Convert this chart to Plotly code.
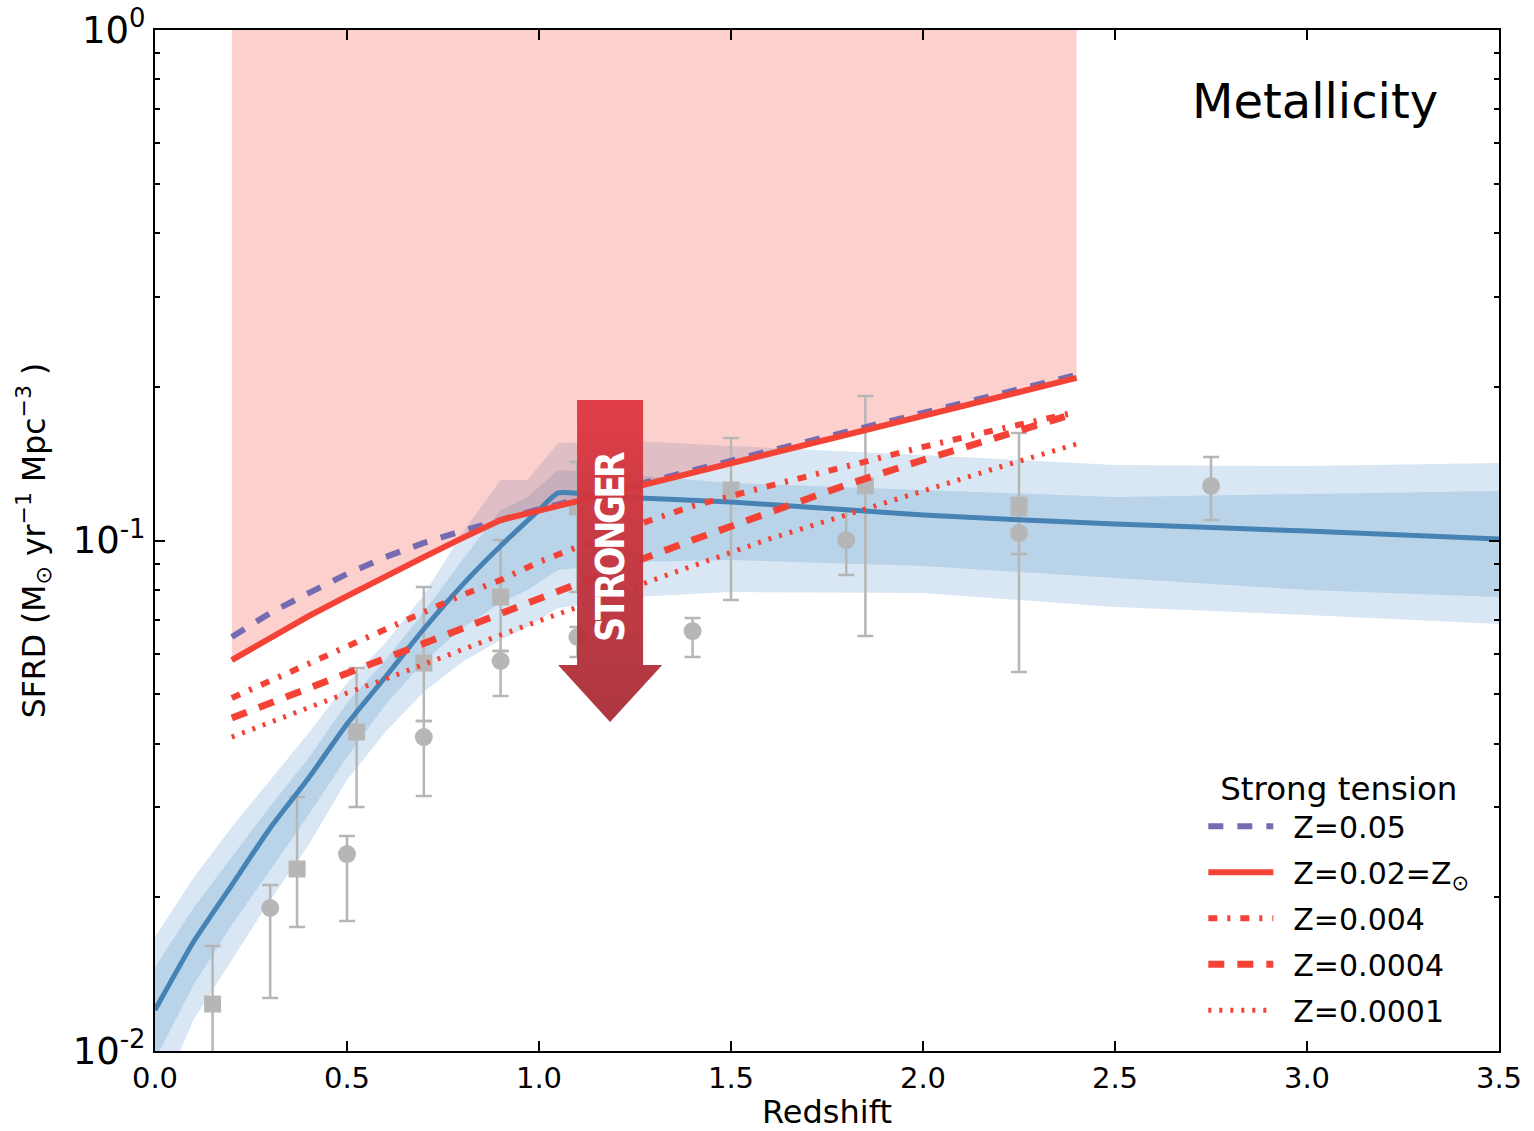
import base64
import plotly.graph_objects as go

# ---- model curves (redshift grid shared by the metallicity tracks) ----
z_model = [0.2, 0.3, 0.4, 0.5, 0.6, 0.7, 0.8, 0.9, 1.0, 1.2, 1.4, 1.6, 1.8, 2.0, 2.2, 2.4]
sfrd_z005 = [0.0647, 0.0721, 0.0789, 0.0860, 0.0928, 0.0989, 0.1044, 0.1097, 0.1152,
             0.1256, 0.1374, 0.1497, 0.1632, 0.1777, 0.1936, 0.2110]
sfrd_z002 = [0.0583, 0.0644, 0.0711, 0.0778, 0.0852, 0.0928, 0.1011, 0.1097, 0.1144,
             0.1247, 0.1358, 0.1479, 0.1611, 0.1755, 0.1912, 0.2083]
sfrd_z0004 = [0.04914, 0.05305, 0.05754, 0.06215, 0.06708, 0.07245, 0.07820, 0.08367, 0.09076,
              0.1039, 0.1168, 0.1279, 0.1399, 0.1525, 0.1654, 0.1785]
sfrd_z00004 = [0.04491, 0.04805, 0.05140, 0.05476, 0.05859, 0.06271, 0.06741, 0.07211, 0.07716,
               0.08794, 0.1002, 0.1137, 0.1285, 0.1438, 0.1602, 0.1777]
sfrd_z00001 = [0.04121, 0.04410, 0.04697, 0.05027, 0.05354, 0.05728, 0.06102, 0.06530, 0.06957,
               0.07890, 0.08915, 0.1007, 0.1122, 0.1256, 0.1393, 0.1545]

# ---- fitted cosmic SFRD with 1σ / 2σ bands ----
z_fit = [0.0, 0.1, 0.2, 0.3, 0.4, 0.5, 0.6, 0.7, 0.8, 0.9, 1.0, 1.05, 1.2, 1.5, 2.0, 2.5, 3.0, 3.5]
sfrd_fit = [0.01203, 0.01635, 0.02114, 0.02734, 0.03425, 0.04370, 0.05402, 0.06708, 0.08178,
            0.09754, 0.1147, 0.1239, 0.1217, 0.1190, 0.1122, 0.1077, 0.1044, 0.1007]

z_band = [0.0, 0.1, 0.2, 0.3, 0.4, 0.5, 0.6, 0.7, 0.8, 0.9, 0.97, 1.05, 1.25, 1.5, 2.0, 2.5, 3.0, 3.5]
band2_hi = [0.01672, 0.02182, 0.02747, 0.03395, 0.04196, 0.05257, 0.06298, 0.07819, 0.1034,
            0.1314, 0.1314, 0.1552, 0.1566, 0.1532, 0.1471, 0.1405, 0.1399, 0.1418]
band1_hi = [0.01460, 0.01906, 0.02399, 0.03019, 0.03749, 0.04805, 0.05833, 0.07245, 0.09158,
            0.1147, 0.1217, 0.1374, 0.1344, 0.1296, 0.1256, 0.1217, 0.1234, 0.1250]
band1_lo = [0.00960, 0.01347, 0.01765, 0.02262, 0.02899, 0.03766, 0.04761, 0.05781, 0.06740,
            0.07541, 0.07998, 0.08756, 0.09076, 0.09158, 0.08913, 0.08444, 0.07998, 0.07750]
band2_lo = [0.00766, 0.01150, 0.01508, 0.01976, 0.02532, 0.03395, 0.04215, 0.05049, 0.05781,
            0.06384, 0.06769, 0.07377, 0.07750, 0.07927, 0.07891, 0.07410, 0.07145, 0.06862]

# ---- observational SFRD compilations ----
sq_z = [0.15, 0.37, 0.525, 0.70, 0.90, 1.10, 1.50, 1.85, 2.25]
sq_sfrd = [0.01236, 0.02273, 0.04215, 0.05754, 0.07750, 0.1163, 0.1256, 0.1279, 0.1173]
sq_hi = [0.01606, 0.03145, 0.05627, 0.08105, 0.1002, 0.1425, 0.1588, 0.1919, 0.1624]
sq_lo = [0.0080, 0.01749, 0.03006, 0.04430, 0.06075, 0.07925, 0.07647, 0.06500, 0.05527]

ci_z = [0.30, 0.50, 0.70, 0.90, 1.10, 1.40, 1.80, 2.25, 2.75]
ci_sfrd = [0.01906, 0.02431, 0.04120, 0.05807, 0.06471, 0.06648, 0.1002, 0.1034, 0.1279]
ci_hi = [0.02114, 0.02637, 0.04430, 0.06075, 0.06770, 0.07048, 0.1147, 0.1122, 0.1457]
ci_lo = [0.01270, 0.01798, 0.03159, 0.04959, 0.05913, 0.05913, 0.08559, 0.09410, 0.1097]

x_ticks = [0.0, 0.5, 1.0, 1.5, 2.0, 2.5, 3.0, 3.5]
y_ticks = [0.01, 0.1, 1.0]
y_ticktext = ["10<sup>-2</sup>", "10<sup>-1</sup>", "10<sup>0</sup>"]
y_minor = [0.02, 0.03, 0.04, 0.05, 0.06, 0.07, 0.08, 0.09,
           0.2, 0.3, 0.4, 0.5, 0.6, 0.7, 0.8, 0.9]

RED = "rgb(244,67,54)"
PURPLE = "rgb(117,107,177)"
BLUE = "rgb(70,130,180)"
GRAY = "rgb(182,182,182)"
PAD = "\u2002"  # small gap between legend sample and label

fig = go.Figure()

# 2σ and 1σ bands
fig.add_trace(go.Scatter(x=z_band + z_band[::-1], y=band2_hi + band2_lo[::-1],
                         fill="toself", fillcolor="rgb(217,231,244)", mode="lines",
                         line=dict(width=0), showlegend=False, hoverinfo="skip"))
fig.add_trace(go.Scatter(x=z_band + z_band[::-1], y=band1_hi + band1_lo[::-1],
                         fill="toself", fillcolor="rgb(185,212,233)", mode="lines",
                         line=dict(width=0), showlegend=False, hoverinfo="skip"))

# excluded region above the solar-metallicity track
fig.add_trace(go.Scatter(x=z_model + [z_model[-1], z_model[0]], y=sfrd_z002 + [1.0, 1.0],
                         fill="toself", fillcolor="rgba(244,67,54,0.25)", mode="lines",
                         line=dict(width=0), showlegend=False, hoverinfo="skip"))

# observations
err_style = dict(type="data", symmetric=False, color=GRAY, thickness=2.5, width=8)
fig.add_trace(go.Scatter(
    x=sq_z, y=sq_sfrd, mode="markers",
    marker=dict(symbol="square", size=17, color=GRAY),
    error_y=dict(array=[h - v for h, v in zip(sq_hi, sq_sfrd)],
                 arrayminus=[v - l for v, l in zip(sq_sfrd, sq_lo)], **err_style),
    showlegend=False))
fig.add_trace(go.Scatter(
    x=ci_z, y=ci_sfrd, mode="markers",
    marker=dict(symbol="circle", size=18, color=GRAY),
    error_y=dict(array=[h - v for h, v in zip(ci_hi, ci_sfrd)],
                 arrayminus=[v - l for v, l in zip(ci_sfrd, ci_lo)], **err_style),
    showlegend=False))

# best-fit SFRD
fig.add_trace(go.Scatter(x=z_fit, y=sfrd_fit, mode="lines",
                         line=dict(color=BLUE, width=5, shape="spline", smoothing=0.5),
                         showlegend=False))

# metallicity tracks
tracks = [
    ("Z=0.05", sfrd_z005, dict(color=PURPLE, width=6, dash="15px,14px")),
    ("Z=0.02=Z<sub>⊙</sub>", sfrd_z002, dict(color=RED, width=6)),
    ("Z=0.004", sfrd_z0004, dict(color=RED, width=6, dash="9px,10px,3px,10px")),
    ("Z=0.0004", sfrd_z00004, dict(color=RED, width=7, dash="16px,13px")),
    ("Z=0.0001", sfrd_z00001, dict(color=RED, width=5, dash="3px,8px")),
]
for name, vals, style in tracks:
    fig.add_trace(go.Scatter(x=z_model, y=vals, mode="lines", name=PAD + name,
                             legendgroup=name, line=style))

# "STRONGER" arrow with a vertical gradient
arrow_svg = (
    '<svg xmlns="http://www.w3.org/2000/svg" width="104" height="322" viewBox="0 0 104 322">'
    '<defs><linearGradient id="g" x1="0" y1="0" x2="0" y2="1">'
    '<stop offset="0" stop-color="#e03a42"/><stop offset="1" stop-color="#a92f3a"/>'
    '</linearGradient></defs>'
    '<path d="M19 0 H85 V265 H104 L52 322 L0 265 H19 Z" fill="url(#g)"/></svg>'
)
arrow_src = "data:image/svg+xml;base64," + base64.b64encode(arrow_svg.encode()).decode()
fig.add_layout_image(dict(source=arrow_src, xref="paper", yref="paper",
                          x=0.2999, y=0.6376, sizex=0.0774, sizey=0.3154,
                          xanchor="left", yanchor="top", sizing="stretch",
                          layer="above", opacity=0.96))
fig.add_annotation(
    text='<b><span style="font-stretch:extra-condensed;letter-spacing:-3.5px">STRONGER</span></b>',
    xref="paper", yref="paper", x=0.3385, y=0.4946,
    showarrow=False, textangle=-90,
    font=dict(family="Noto Sans ExtraCondensed, Noto Sans Condensed, DejaVu Sans Condensed, "
                     "Liberation Sans Narrow, Noto Sans, sans-serif",
              size=39, color="white"))

fig.add_annotation(text="Metallicity", xref="paper", yref="paper", x=0.956, y=0.930,
                   xanchor="right", yanchor="middle", showarrow=False,
                   font=dict(family="DejaVu Sans", size=48, color="black"))

axis_common = dict(showline=True, linewidth=2, linecolor="black", mirror="ticks",
                   ticks="inside", tickwidth=1.5, tickcolor="black", showgrid=False,
                   zeroline=False, automargin=False)

fig.update_layout(
    width=1534, height=1131,
    margin=dict(l=155, r=35, t=30, b=80, autoexpand=False),
    plot_bgcolor="white", paper_bgcolor="white",
    font=dict(family="DejaVu Sans", size=28, color="black"),
    xaxis=dict(range=[0, 3.5], tickvals=x_ticks, tickformat=".1f", ticklen=10,
               tickfont=dict(family="DejaVu Sans", size=29, color="black"),
               ticklabelstandoff=0,
               title=dict(text="Redshift", standoff=9,
                          font=dict(family="DejaVu Sans", size=32)), **axis_common),
    # log-axis labels are drawn smaller than the tick font size
    yaxis=dict(type="log", range=[-2, 0], tickvals=y_ticks, ticktext=y_ticktext, ticklen=10,
               tickfont=dict(family="DejaVu Sans", size=37, color="black"),
               minor=dict(ticks="inside", ticklen=5, tickvals=y_minor, tickcolor="black",
                          showgrid=False),
               title=dict(text="SFRD (M<sub>⊙</sub> yr<sup>−1</sup> Mpc<sup>−3</sup> )", standoff=18,
                          font=dict(family="DejaVu Sans", size=31.5)),
               **axis_common),
    legend=dict(x=0.780, y=0.287, xanchor="left", yanchor="top",
                bgcolor="rgba(0,0,0,0)", itemwidth=65, tracegroupgap=4,
                font=dict(family="DejaVu Sans", size=30),
                title=dict(text="Strong tension", side="top center",
                           font=dict(family="DejaVu Sans", size=32.5))),
)

fig.write_html("out.html")
